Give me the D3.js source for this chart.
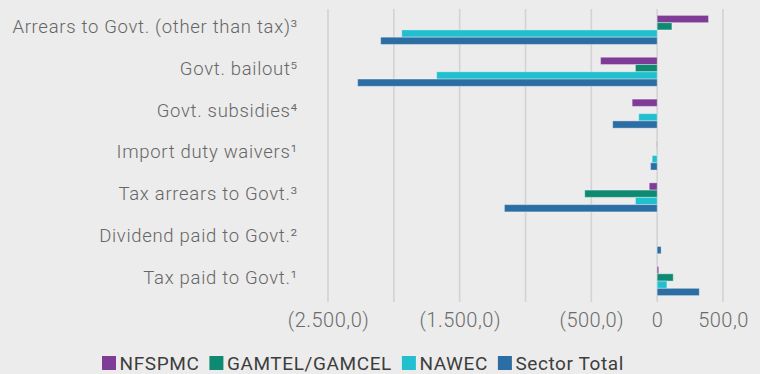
<!DOCTYPE html>
<html>
<head>
<meta charset="utf-8">
<script src="https://cdn.jsdelivr.net/npm/d3@7"></script>
<style>
  body { margin: 0; background: #ececec; }
  svg { display: block; }
  text { font-family: Roboto, "Noto Sans", sans-serif; }
</style>
</head>
<body>
<svg id="chart" width="760" height="374"></svg>
<script>
// Fiscal flows between state-owned enterprises and government (GMD millions)
const categories = [
  "Arrears to Govt. (other than tax)³",
  "Govt. bailout⁵",
  "Govt. subsidies⁴",
  "Import duty waivers¹",
  "Tax arrears to Govt.³",
  "Dividend paid to Govt.²",
  "Tax paid to Govt.¹"
];
const seriesNames = ["NFSPMC", "GAMTEL/GAMCEL", "NAWEC", "Sector Total"];
const nfspmc      = [390, -430, -190, -3, -60, 0, 12];
const gamtel      = [112, -165, 0, -2, -550, 0, 122];
const nawec       = [-1940, -1675, -140, -38, -165, 0, 74];
const sectorTotal = [-2100, -2275, -338, -50, -1160, 30, 320];
const tickValues  = [-2500, -2000, -1500, -1000, -500, 0, 500];
const tickLabels  = ["(2.500,0)", "", "(1.500,0)", "", "(500,0)", "0", "500,0"];
const colors      = ["#7e3c97", "#0f8a72", "#22bfce", "#2c6ea3"];

const seriesValues = [nfspmc, gamtel, nawec, sectorTotal];

const svg = d3.select("#chart");
const plot = { left: 328, right: 723, top: 9, bottom: 302 };

const x = d3.scaleLinear().domain([-2500, 500]).range([plot.left, plot.right]);
const y = d3.scaleBand().domain(categories).range([plot.top, plot.bottom])
  .paddingInner(0.306).paddingOuter(0.153);
const ySub = d3.scaleBand().domain(seriesNames).range([0, y.bandwidth()]);

// vertical gridlines
svg.append("g").selectAll("line").data(tickValues).join("line")
  .attr("x1", d => x(d)).attr("x2", d => x(d))
  .attr("y1", plot.top).attr("y2", plot.bottom)
  .attr("stroke", "#d3d3d3").attr("stroke-width", 1.6);

// bars
const rows = categories.map((c, i) => ({ c, vals: seriesNames.map((s, j) => ({ s, j, v: seriesValues[j][i] })) }));
const groups = svg.append("g").selectAll("g").data(rows).join("g")
  .attr("transform", d => `translate(0,${y(d.c)})`);
groups.selectAll("rect").data(d => d.vals.filter(e => e.v !== 0)).join("rect")
  .attr("x", d => x(Math.min(0, d.v)))
  .attr("width", d => Math.abs(x(d.v) - x(0)))
  .attr("y", d => ySub(d.s))
  .attr("height", ySub.bandwidth())
  .attr("fill", d => colors[d.j])
  .attr("stroke", "rgba(255,255,255,0.35)")
  .attr("stroke-width", 1);

// category axis
const yAxis = svg.append("g")
  .attr("transform", `translate(298,0)`)
  .call(d3.axisLeft(y).tickSize(0).tickPadding(0));
yAxis.select(".domain").remove();
yAxis.selectAll("text")
  .attr("y", -3)
  .attr("fill", "#666")
  .style("font-size", "18.5px")
  .style("letter-spacing", "0.7px")
  .style("font-weight", 300);

// value axis
const xAxis = svg.append("g")
  .attr("transform", `translate(0,${plot.bottom})`)
  .call(d3.axisBottom(x).tickValues(tickValues).tickSize(0).tickPadding(11)
    .tickFormat((d, i) => tickLabels[i]));
xAxis.select(".domain").remove();
xAxis.selectAll("text")
  .attr("fill", "#6b6b6b")
  .style("font-size", "20px")
  .style("letter-spacing", "0.5px")
  .style("font-weight", 300);

// legend
const legend = svg.append("g").attr("transform", "translate(102,356)");
let lx = 0;
seriesNames.forEach((name, j) => {
  const item = legend.append("g").attr("transform", `translate(${lx},0)`);
  item.append("rect").attr("width", 14).attr("height", 14).attr("fill", colors[j]);
  const t = item.append("text").attr("x", 17.5).attr("y", 13.5)
    .attr("fill", "#3d3d3d").style("font-size", "19px")
    .style("letter-spacing", "0.6px").text(name);
  lx += 17.5 + t.node().getComputedTextLength() + 10;
});
</script>
</body>
</html>
